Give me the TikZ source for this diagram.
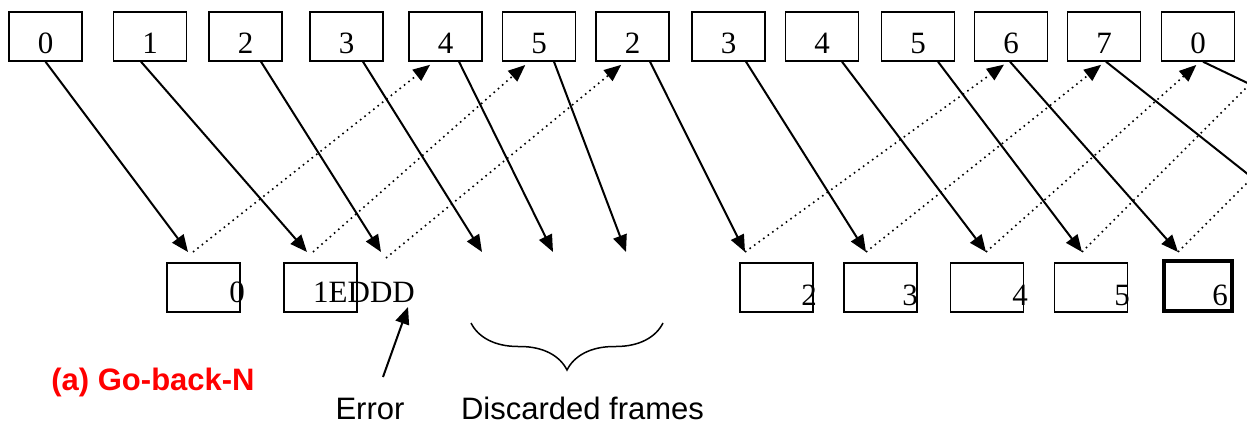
\documentclass[tikz,border=0pt]{standalone}
\usepackage{fontspec}
\setmainfont{Liberation Serif}
\setsansfont{Liberation Sans}
\usepackage{tikz}
\usetikzlibrary{arrows.meta,decorations.pathreplacing}

\tikzset{
  frame/.style={draw,line width=0.7pt,minimum width=36.5pt,minimum height=24.5pt,inner sep=0pt,text height=16.5pt,text depth=0pt},
  rxbox/.style={draw,line width=0.7pt,minimum width=36.5pt,minimum height=24.5pt,inner sep=0pt},
  lastbox/.style={rxbox,line width=2pt,minimum width=34pt,minimum height=25pt},
  num/.style={inner sep=0pt},
  send/.style={line width=1pt,-{Triangle[length=8.5pt,width=7pt]}},
  ack/.style={line width=0.8pt,dotted,-{Triangle[length=8.5pt,width=7pt]}},
}

\begin{document}
\begin{tikzpicture}[x=0.5pt,y=-0.5pt,font=\fontsize{15.5pt}{18pt}\selectfont]
		\useasboundingbox (0,0) rectangle (1247,423);
		\clip (0,0) rectangle (1247,423);
		%
		\node[frame] (t0) at (45.5,36.5) {0};
		\node[frame] (t1) at (150,36.5) {1};
		\node[frame] (t2) at (245.5,36.5) {2};
		\node[frame] (t3) at (346.5,36.5) {3};
		\node[frame] (t4) at (445.5,36.5) {4};
		\node[frame] (t5) at (539,36.5) {5};
		\node[frame] (t6) at (632.5,36.5) {2};
		\node[frame] (t7) at (728.5,36.5) {3};
		\node[frame] (t8) at (822,36.5) {4};
		\node[frame] (t9) at (918,36.5) {5};
		\node[frame] (t10) at (1011,36.5) {6};
		\node[frame] (t11) at (1104,36.5) {7};
		\node[frame] (t12) at (1198,36.5) {0};
		%
		\coordinate (a0) at (188,252);
		\coordinate (a1) at (307,252);
		\coordinate (a2) at (381,252);
		\coordinate (a3) at (482,252);
		\coordinate (a4) at (553,252);
		\coordinate (a5) at (626,252);
		\coordinate (a6) at (745,252);
		\coordinate (a7) at (866,252);
		\coordinate (a8) at (986,252);
		\coordinate (a9) at (1082,252);
		\coordinate (a10) at (1178,252);
		\coordinate (o11) at (1346,252);
		\coordinate (o12) at (1400,156);
		\coordinate (o9) at (1282,52);
		\coordinate (o10) at (1300,130);
		%
		\path[send]
		(t0.south) edge (a0)
		([xshift=-4.5pt]t1.south) edge (a1)
		([xshift=7.75pt]t2.south) edge (a2)
		([xshift=8.25pt]t3.south) edge (a3)
		([xshift=6.75pt]t4.south) edge (a4)
		([xshift=7.5pt]t5.south) edge (a5)
		([xshift=8.75pt]t6.south) edge (a6)
		([xshift=8.75pt]t7.south) edge (a7)
		([xshift=10pt]t8.south) edge (a8)
		([xshift=10pt]t9.south) edge (a9)
		([xshift=-0.5pt]t10.south) edge (a10)
		([xshift=1pt]t11.south) edge (o11)
		([xshift=2.5pt]t12.south) edge (o12);
		%
		\path[ack,shorten >=2.5pt]
		([xshift=2.5pt]a0) edge ([xshift=-5.75pt]t4.south)
		([xshift=3pt]a1) edge ([xshift=-5pt]t5.south)
		([xshift=2.5pt,yshift=-3pt]a2) edge ([xshift=-3.75pt]t6.south)
		(a6) edge ([xshift=-1.5pt]t10.south)
		(a7) edge ([xshift=0.5pt]t11.south)
		(a8) edge ([xshift=1pt]t12.south)
		(a9) edge[-] (o9)
		(a10) edge[-] (o10);
		%
		\node[rxbox] (r0) at (203.5,287.5) {};
		\node[rxbox] (r1) at (320.5,287.5) {};
		\node[rxbox] (r2) at (776.5,287.5) {};
		\node[rxbox] (r3) at (880.5,287.5) {};
		\node[rxbox] (r4) at (987,287.5) {};
		\node[rxbox] (r5) at (1091,287.5) {};
		\node[lastbox] (r6) at (1198,286) {};
		\node[num] (n0) at (237,292) {0};
		\node[num] (n1) at (364,292) {1EDDD};
		\node[num] (n2) at (809,295.5) {2};
		\node[num] (n3) at (910,295.5) {3};
		\node[num] (n4) at (1020,295.5) {4};
		\node[num] (n5) at (1122,295.5) {5};
		\node[num] (n6) at (1220,295.5) {6};
		%
		\node[num,anchor=base,font=\fontsize{15.5pt}{18pt}\sffamily] (err) at (370,419) {Error};
		\node[num,anchor=base,font=\fontsize{15.5pt}{18pt}\sffamily] (disc) at (582.5,419) {Discarded frames};
		\node[num,anchor=base west,text=red,font=\fontsize{15.5pt}{18pt}\sffamily\bfseries] (title) at (51,390) {(a) Go-back-N};
		\coordinate (etail) at (383,377);
		\coordinate (ehead) at (408,307);
		\draw[send] (etail) -- (ehead);
		\draw[line width=0.75pt,decorate,decoration={brace,amplitude=23.5pt}] (663,323) -- (471,323);
\end{tikzpicture}
\end{document}
